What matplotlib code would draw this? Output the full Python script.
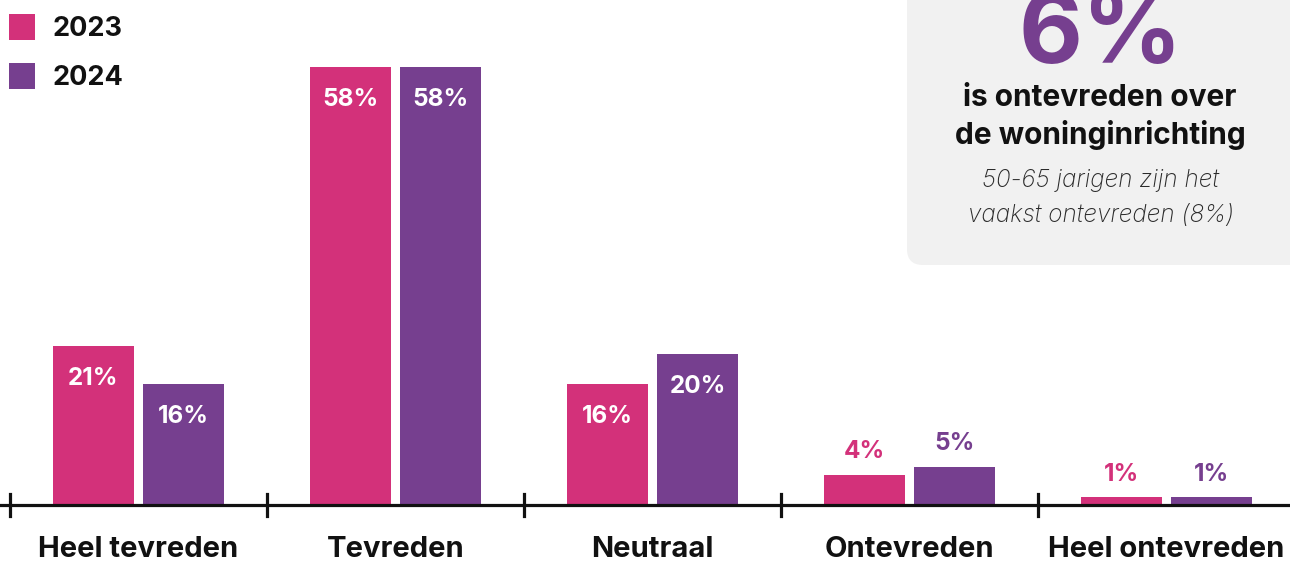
import matplotlib.pyplot as plt
import numpy as np
from matplotlib.patches import FancyBboxPatch

# survey answers, share of respondents in %
categories = ["Heel tevreden", "Tevreden", "Neutraal", "Ontevreden", "Heel ontevreden"]
years = ["2023", "2024"]
values_2023 = [21, 58, 16, 4, 1]
values_2024 = [16, 58, 20, 5, 1]

pink = "#d3317a"
purple = "#763f8f"
font = "Inter"

W, H = 1290, 562
fig = plt.figure(figsize=(W / 100, H / 100), dpi=100)

# background layer in pixel coordinates for the info box
bg = fig.add_axes([0, 0, 1, 1])
bg.set_xlim(0, W)
bg.set_ylim(H, 0)
bg.axis("off")
box = FancyBboxPatch((907, -60), 500, 325, boxstyle="round,pad=0,rounding_size=16",
                     facecolor="#f1f1f1", edgecolor="none")
bg.add_patch(box)
bg.text(1101, 63, "6%", ha="center", va="baseline", fontsize=71, fontweight="bold",
        color=purple, family=font)
bg.text(1100, 98, "is ontevreden over", ha="center", va="center", fontsize=21.5,
        fontweight="bold", color="#111111", family=font)
bg.text(1100, 135, "de woninginrichting", ha="center", va="center", fontsize=21.5,
        fontweight="bold", color="#111111", family=font)
bg.text(1101, 181, "50-65 jarigen zijn het", ha="center", va="center", fontsize=17.5,
        style="italic", fontweight="light", color="#2a2a2a", family=font)
bg.text(1101, 216, "vaakst ontevreden (8%)", ha="center", va="center", fontsize=17.5,
        style="italic", fontweight="light", color="#2a2a2a", family=font)

# legend
for i, (yr, col) in enumerate(zip(years, [pink, purple])):
    yc = 27 + i * 49
    bg.add_patch(plt.Rectangle((9, yc - 13), 26, 26, facecolor=col, edgecolor="none"))
    bg.text(53, yc + 2, yr, ha="left", va="center", fontsize=19.5, fontweight="bold",
            color="#111111", family=font)

# main chart
ax = fig.add_axes([0, 0, 1, 1])
ax.patch.set_alpha(0)
step = 257
ax.set_xlim(-0.5 - 10 / step, (W - 10) / step - 0.5)
ppu = 7.55
ax.set_ylim(-(H - 505) / ppu, 505 / ppu)
ax.axis("off")

x = np.arange(len(categories))
off, bw = 0.176, 0.316
for vals, col, dx in [(values_2023, pink, -off), (values_2024, purple, off)]:
    ax.bar(x + dx, vals, width=bw, color=col, zorder=2)
    for xi, v in zip(x, vals):
        if v >= 10:
            ax.text(xi + dx, v - 4.3, f"{v}%", ha="center", va="center", fontsize=17.5,
                    fontweight="bold", color="white", family=font, zorder=3)
        else:
            ax.text(xi + dx, v + 3.1, f"{v}%", ha="center", va="center", fontsize=17.5,
                    fontweight="bold", color=col, family=font, zorder=3)

# baseline with separator ticks
ax.axhline(0, color="#111111", lw=2.3, zorder=4)
for b in np.arange(len(categories)) - 0.5:
    ax.plot([b, b], [-1.5, 1.5], color="#111111", lw=2.3, zorder=4)

for xi, c in zip(x, categories):
    ax.text(xi, -5.95, c, ha="center", va="center", fontsize=21, fontweight="bold",
            color="#111111", family=font)

fig.savefig("out.png", dpi=100)
